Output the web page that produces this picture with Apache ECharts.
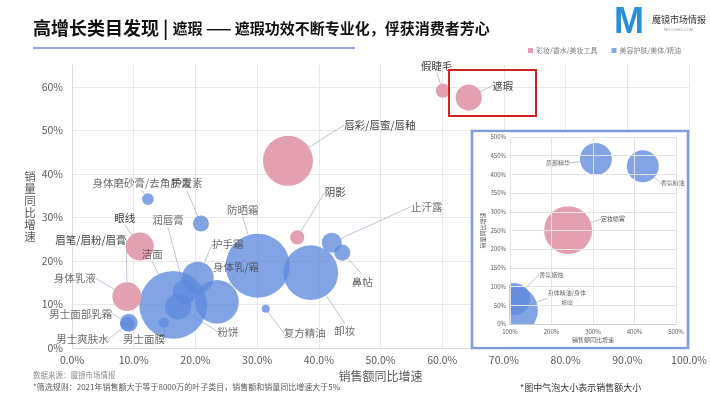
<!DOCTYPE html>
<html>
<head>
<meta charset="utf-8">
<script src="https://cdn.jsdelivr.net/npm/echarts@6/dist/echarts.min.js"></script>
<style>
html, body { margin: 0; padding: 0; background: #fff; }
#chart { width: 710px; height: 399px; }
</style>
</head>
<body>
<div id="chart"></div>
<script>
// 系列名
var pinkName = '彩妆/香水/美妆工具';
var blueName = '美容护肤/美体/精油';

// 主图 - 彩妆/香水/美妆工具
var pinkNames = ['假睫毛', '遮瑕', '唇彩/唇蜜/唇釉', '阴影', '眼线', '眉笔/眉粉/眉膏'];
var pinkSalesGrowth = [0.601, 0.643, 0.350, 0.365, 0.110, 0.089];
var pinkVolumeGrowth = [0.591, 0.575, 0.430, 0.254, 0.233, 0.118];
var pinkSales = [2.0, 6.8, 25, 2.0, 7.8, 8.4];

// 主图 - 美容护肤/美体/精油
var blueNames = ['洁面', '防晒霜', '卸妆', '身体乳/霜', '护手霜', '粉饼', '润唇膏', '止汗露', '鼻帖',
  '护发素', '身体磨砂膏/去角质膏', '男士面部乳霜', '男士爽肤水', '男士面膜', '身体乳液', '复方精油'];
var blueSalesGrowth = [0.164, 0.301, 0.387, 0.235, 0.204, 0.172, 0.183, 0.421, 0.438,
  0.209, 0.123, 0.092, 0.090, 0.149, 0.087, 0.314];
var blueVolumeGrowth = [0.099, 0.189, 0.173, 0.106, 0.162, 0.095, 0.129, 0.242, 0.219,
  0.286, 0.342, 0.058, 0.055, 0.058, 0.119, 0.090];
var blueSales = [46, 41, 30, 19, 10, 6.8, 5.8, 4, 2.6, 2.6, 1.4, 3.2, 2.0, 1.0, 1.4, 0.64];

// 小图（高增速类目）
var insetPinkNames = ['定妆喷雾'];
var insetPinkSalesGrowth = [2.40];
var insetPinkVolumeGrowth = [2.51];
var insetPinkSales = [23];

var insetBlueNames = ['眉部精华', '香氛精油', '身体精油/身体按摩', '香氛蜡烛'];
var insetBlueSalesGrowth = [3.07, 4.20, 1.07, 1.10];
var insetBlueVolumeGrowth = [4.41, 4.22, 0.37, 0.67];
var insetBlueSales = [10.2, 10.2, 25, 10.2];

// 标签偏移 (相对气泡中心)
var pinkLabelOffsets = [[-6, -25], [34, -12], [92, -36], [38, -45], [-15, -29], [-36, -57]];
var blueLabelOffsets = [[-21, -51], [-15, -56], [34, 58], [19, -35], [30, -33], [50, 25], [-17, -72],
  [95, -36], [20, 29], [-14, -40], [-6, -16], [-48, -9], [-45, 15], [-20, 16], [-51, -18], [39, 24]];
var insetPinkLabelOffsets = [[45, -11]];
var insetBlueLabelOffsets = [[-38, 4], [30, 17], [54, -12], [37, -24]];

function toData(names, xs, ys, sizes) {
  return names.map(function (n, i) {
    return { name: n, value: [xs[i], ys[i], sizes[i]] };
  });
}

function bubbleSize(v) {
  return Math.sqrt(v[2]) * 10;
}

var pinkColor = '#e2a0b0';
var blueColor = '#5f8ade';
var lineColor = '#a9b6cc';
var gridColor = '#e8e8e8';

function makeSeries(name, data, offsets, color, opacity, xi, z, fontSize, formatter) {
  return {
    name: name,
    type: 'scatter',
    xAxisIndex: xi,
    yAxisIndex: xi,
    z: z,
    data: data,
    symbolSize: bubbleSize,
    itemStyle: { color: color, opacity: opacity },
    label: {
      show: true,
      position: 'inside',
      formatter: formatter || '{b}',
      fontSize: fontSize,
      lineHeight: fontSize + 4,
      color: '#404040',
      fontFamily: 'Noto Sans CJK SC'
    },
    labelLine: {
      show: true,
      lineStyle: { color: lineColor, width: 0.8 }
    },
    labelLayout: function (p) {
      var o = offsets[p.dataIndex];
      return { dx: o[0], dy: o[1] };
    },
    emphasis: { disabled: true }
  };
}

var chart = echarts.init(document.getElementById('chart'));

chart.setOption({
  animation: false,
  textStyle: { fontFamily: 'Noto Sans CJK SC' },
  legend: {
    data: [pinkName, blueName],
    left: 528,
    top: 47,
    padding: 0,
    icon: 'rect',
    itemWidth: 5,
    itemHeight: 5,
    itemGap: 14,
    textStyle: { fontSize: 7, color: '#7f7f7f', padding: [0, 0, 0, -2] }
  },
  grid: [
    { left: 72, right: 21, top: 65, bottom: 51 },
    { left: 510, right: 34, top: 137, bottom: 75 }
  ],
  xAxis: [
    {
      type: 'value', gridIndex: 0, min: 0, max: 1, interval: 0.1,
      name: '销售额同比增速', nameLocation: 'middle', nameGap: 19,
      nameTextStyle: { fontSize: 12, color: '#595959' },
      axisLine: { show: true, lineStyle: { color: '#d9d9d9' } },
      axisTick: { show: false },
      splitLine: { lineStyle: { color: gridColor } },
      axisLabel: {
        fontSize: 10.5, color: '#595959', margin: 7,
        formatter: function (v) { return (v * 100).toFixed(1) + '%'; }
      }
    },
    {
      type: 'value', gridIndex: 1, min: 1, max: 5, interval: 1, z: 5,
      name: '销售额同比增速', nameLocation: 'middle', nameGap: 13,
      nameTextStyle: { fontSize: 6, color: '#595959' },
      axisLine: { show: true, lineStyle: { color: '#d0d0d0' } },
      axisTick: { show: false },
      splitLine: { lineStyle: { color: '#e3e3e3' } },
      axisLabel: {
        fontSize: 6, color: '#595959', margin: 5,
        formatter: function (v) { return Math.round(v * 100) + '%'; }
      }
    }
  ],
  yAxis: [
    {
      type: 'value', gridIndex: 0, min: 0, max: 0.65, interval: 0.1,
      name: '销\n量\n同\n比\n增\n速', nameLocation: 'middle', nameGap: 31, nameRotate: 0,
      nameTextStyle: { fontSize: 11.5, lineHeight: 12, color: '#595959', align: 'center', verticalAlign: 'middle' },
      axisLine: { show: true, lineStyle: { color: '#d9d9d9' } },
      axisTick: { show: false },
      // 顶部 65% 处不画横线
      splitLine: { lineStyle: { color: [gridColor, gridColor, gridColor, gridColor, gridColor, gridColor, gridColor, 'rgba(0,0,0,0)'] } },
      axisLabel: {
        fontSize: 10.5, color: '#595959', margin: 9, showMaxLabel: false,
        formatter: function (v) { return Math.round(v * 100) + '%'; }
      }
    },
    {
      type: 'value', gridIndex: 1, min: 0, max: 5, interval: 0.5, z: 5,
      name: '销量同比增速', nameLocation: 'middle', nameGap: 24,
      nameTextStyle: { fontSize: 6, color: '#595959' },
      axisLine: { show: false },
      axisTick: { show: false },
      splitLine: { lineStyle: { color: '#e3e3e3' } },
      axisLabel: {
        fontSize: 6, color: '#595959', margin: 4,
        formatter: function (v) { return Math.round(v * 100) + '%'; }
      }
    }
  ],
  graphic: [
    {
      type: 'text', left: 33, top: 19, z: 10,
      style: {
        text: '{a|高增长类目发现 | }{b|遮瑕 —— 遮瑕功效不断专业化，俘获消费者芳心}',
        rich: {
          a: { fontSize: 18, fontWeight: 'bold', fill: '#111', fontFamily: 'Noto Sans CJK SC' },
          b: { fontSize: 15, fontWeight: 'bold', fill: '#111', fontFamily: 'Noto Sans CJK SC' }
        }
      }
    },
    { type: 'rect', z: 10, shape: { x: 33, y: 47, width: 322, height: 2 }, style: { fill: '#8eaadb' } },
    {
      type: 'text', left: 614, top: 5, z: 10,
      style: { text: 'M', fontSize: 36, fontWeight: 'bold', fill: '#2b8fd8', fontFamily: 'Liberation Sans' }
    },
    {
      type: 'text', left: 652, top: 15, z: 10,
      style: { text: '魔镜市场情报', fontSize: 9, fill: '#333', fontFamily: 'Noto Sans CJK SC' }
    },
    {
      type: 'text', left: 664, top: 28, z: 10,
      style: { text: 'MOOJING.COM', fontSize: 4, fill: '#999' }
    },
    // 小图白底和蓝框
    {
      type: 'rect', z: 1, shape: { x: 472, y: 131, width: 216, height: 217 },
      style: { fill: '#fff', stroke: '#7d9cd9', lineWidth: 2.5 }
    },
    // 小图绘图区外遮挡溢出的气泡
    { type: 'rect', z: 4.5, shape: { x: 474, y: 132.5, width: 35.5, height: 214 }, style: { fill: '#fff' } },
    { type: 'rect', z: 4.5, shape: { x: 474, y: 324.5, width: 212, height: 22 }, style: { fill: '#fff' } },
    // 红框
    {
      type: 'rect', z: 20, shape: { x: 449, y: 70, width: 87, height: 46 },
      style: { fill: 'none', stroke: '#d42020', lineWidth: 2 }
    },
    {
      type: 'text', left: 33, top: 371, z: 10,
      style: { text: '数据来源：魔镜市场情报', fontSize: 7.5, fill: '#8c8c8c', fontFamily: 'Noto Sans CJK SC' }
    },
    {
      type: 'text', left: 33, top: 383, z: 10,
      style: { text: '*筛选规则：2021年销售额大于等于8000万的叶子类目，销售额和销量同比增速大于5%', fontSize: 8, fill: '#595959', fontFamily: 'Noto Sans CJK SC' }
    },
    {
      type: 'text', left: 520, top: 383, z: 10,
      style: { text: '*图中气泡大小表示销售额大小', fontSize: 9, fill: '#333', fontFamily: 'Noto Sans CJK SC' }
    }
  ],
  series: [
    makeSeries(blueName, toData(blueNames, blueSalesGrowth, blueVolumeGrowth, blueSales),
      blueLabelOffsets, blueColor, 0.78, 0, 2, 10.5),
    makeSeries(pinkName, toData(pinkNames, pinkSalesGrowth, pinkVolumeGrowth, pinkSales),
      pinkLabelOffsets, pinkColor, 1, 0, 2, 10.5),
    makeSeries(blueName, toData(insetBlueNames, insetBlueSalesGrowth, insetBlueVolumeGrowth, insetBlueSales),
      insetBlueLabelOffsets, blueColor, 0.78, 1, 4, 6,
      function (p) { return p.name.replace('/身体按摩', '/身体\n按摩'); }),
    makeSeries(pinkName, toData(insetPinkNames, insetPinkSalesGrowth, insetPinkVolumeGrowth, insetPinkSales),
      insetPinkLabelOffsets, pinkColor, 1, 1, 4, 6)
  ]
});
</script>
</body>
</html>
